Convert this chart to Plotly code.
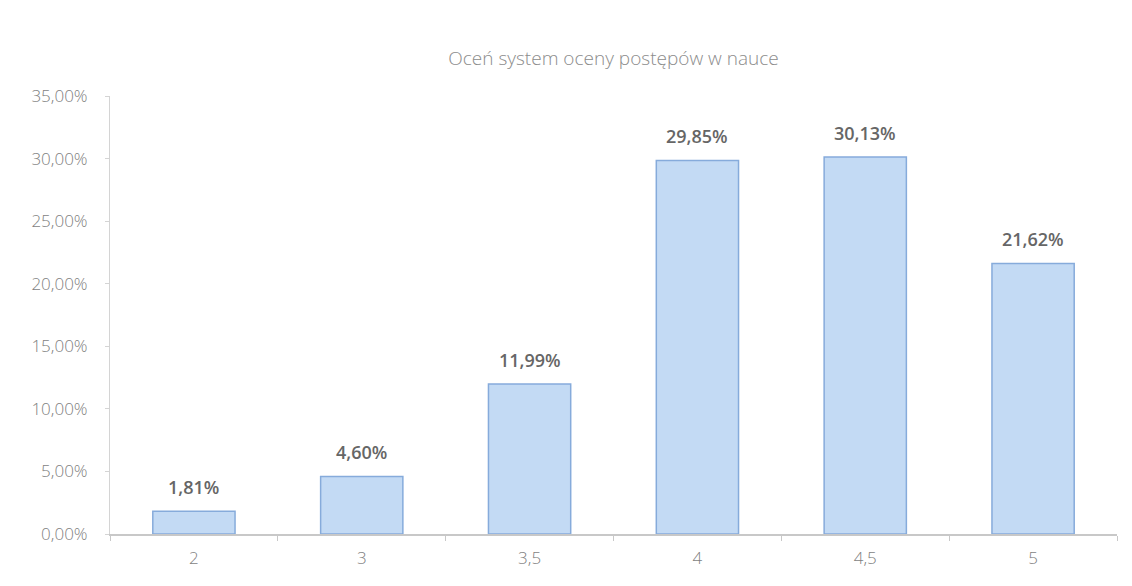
import plotly.graph_objects as go

categories = ["2", "3", "3,5", "4", "4,5", "5"]
values = [1.81, 4.60, 11.99, 29.85, 30.13, 21.62]
labels = ["1,81%", "4,60%", "11,99%", "29,85%", "30,13%", "21,62%"]
tick_vals = [0, 5, 10, 15, 20, 25, 30, 35]
tick_text = ["0,00%", "5,00%", "10,00%", "15,00%", "20,00%", "25,00%", "30,00%", "35,00%"]

W, H = 1124, 578
fig = go.Figure()
fig.add_trace(go.Bar(
    x=categories, y=values,
    marker=dict(color="#C3DAF4", line=dict(color="#86ABDB", width=1.5)),
    width=0.49, hoverinfo="x+y",
))
for i, (v, t) in enumerate(zip(values, labels)):
    fig.add_annotation(x=i, y=v, text=t, showarrow=False, yanchor="bottom", yshift=10,
                       font=dict(family="Open Sans", size=18, color="#666666", weight=600))
fig.update_layout(
    width=W, height=H,
    margin=dict(l=102, r=15, t=88, b=52),
    paper_bgcolor="white", plot_bgcolor="white",
    title=dict(text="Oceń system oceny postępów w nauce", x=(102 + (W - 15)) / 2 / W, xanchor="center",
               y=1 - 50 / H, yanchor="middle",
               font=dict(family="Open Sans", size=19, color="#8c8c8c", weight=300)),
    showlegend=False,
    font=dict(family="Open Sans", size=17, color="#808080"),
)
fig.update_yaxes(range=[0, 35], tickvals=tick_vals, ticktext=tick_text, showgrid=False,
                 showline=True, linecolor="#d4d4d4", ticks="outside", ticklen=4,
                 tickcolor="#d4d4d4", zeroline=False, ticklabelstandoff=14,
                 tickfont=dict(size=17, color="#7f7f7f", weight=300))
fig.update_xaxes(type="category", showline=True, linecolor="#c8c8c8", linewidth=1.5, ticks="outside",
                 ticklen=5, tickcolor="#c8c8c8", tickson="boundaries", ticklabelstandoff=8,
                 tickfont=dict(size=17, color="#7f7f7f", weight=300))
fig.write_html("out.html")
